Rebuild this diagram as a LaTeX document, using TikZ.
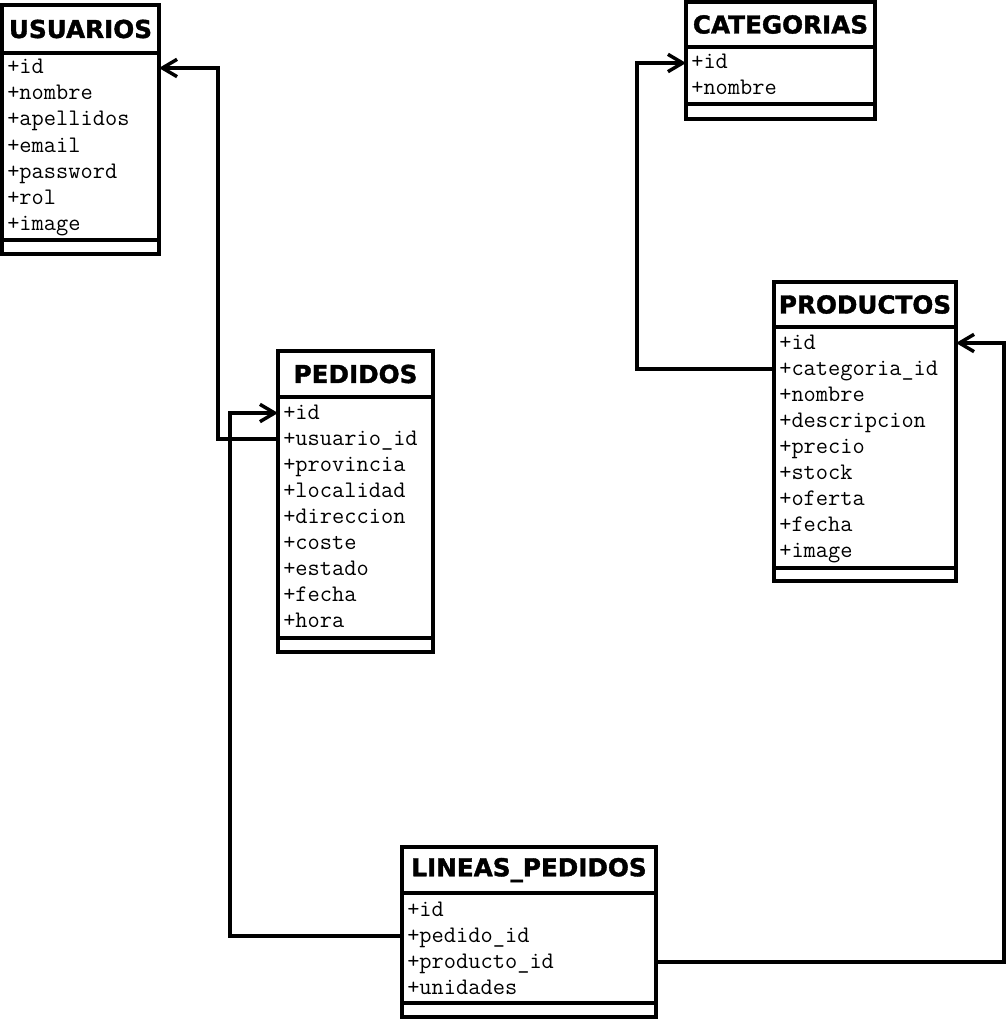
\documentclass[tikz,border=0pt]{standalone}
\usepackage{fontspec}
\newfontfamily\hdrfont{DejaVu Sans}[BoldFeatures={FakeBold=1.5}]
\usetikzlibrary{positioning,arrows.meta}

\tikzset{
  tblhead/.style={draw, line width=2.6pt, outer sep=0pt, inner sep=0pt, fill=white,
    font=\hdrfont\bfseries\fontsize{18.5}{20}\selectfont},
  tblbody/.style={draw, line width=2.6pt, outer sep=0pt, inner sep=0pt, fill=white},
  field/.style={anchor=west, inner sep=0pt, text height=11pt, text depth=2pt,
    font=\ttfamily\fontsize{17.8}{18}\selectfont},
  rel/.style={line width=2.6pt, -{Straight Barb[length=11pt,width=13pt]}},
}

\begin{document}
\begin{tikzpicture}[x=0.75pt, y=-0.75pt]
    \useasboundingbox (0,0) rectangle (1007,1020);

    % USUARIOS
    \node[tblhead, minimum width=117.75pt, minimum height=36pt, anchor=north west] (usu) at (2,5) {USUARIOS};
    \node[tblbody, minimum width=117.75pt, minimum height=140.25pt, below=0pt of usu] (usubody) {};
    \node[tblbody, minimum width=117.75pt, minimum height=10.5pt, below=0pt of usubody] (usufoot) {};
    \foreach \f [count=\i] in {id,nombre,apellidos,email,password,rol,image}
        \node[field] (usu-\i) at ([shift={(5,15+26*(\i-1))}]usubody.north west) {+\f};

    % CATEGORIAS
    \node[tblhead, minimum width=141.75pt, minimum height=33.75pt, anchor=north west] (cat) at (686,2) {CATEGORIAS};
    \node[tblbody, minimum width=141.75pt, minimum height=42.75pt, below=0pt of cat] (catbody) {};
    \node[tblbody, minimum width=141.75pt, minimum height=11.25pt, below=0pt of catbody] (catfoot) {};
    \foreach \f [count=\i] in {id,nombre}
        \node[field] (cat-\i) at ([shift={(5,16+26*(\i-1))}]catbody.north west) {+\f};

    % PRODUCTOS
    \node[tblhead, minimum width=136.5pt, minimum height=33.75pt, anchor=north west] (pro) at (774,282) {PRODUCTOS};
    \node[tblbody, minimum width=136.5pt, minimum height=180.75pt, below=0pt of pro] (probody) {};
    \node[tblbody, minimum width=136.5pt, minimum height=9.75pt, below=0pt of probody] (profoot) {};
    \foreach \f [count=\i] in {id,categoria\_id,nombre,descripcion,precio,stock,oferta,fecha,image}
        \node[field] (pro-\i) at ([shift={(5,16+26.1*(\i-1))}]probody.north west) {+\f};

    % PEDIDOS
    \node[tblhead, minimum width=116.25pt, minimum height=34.5pt, anchor=north west] (ped) at (278,351) {PEDIDOS};
    \node[tblbody, minimum width=116.25pt, minimum height=180.75pt, below=0pt of ped] (pedbody) {};
    \node[tblbody, minimum width=116.25pt, minimum height=10.5pt, below=0pt of pedbody] (pedfoot) {};
    \foreach \f [count=\i] in {id,usuario\_id,provincia,localidad,direccion,coste,estado,fecha,hora}
        \node[field] (ped-\i) at ([shift={(5,16+26.1*(\i-1))}]pedbody.north west) {+\f};

    % LINEAS_PEDIDOS
    \node[tblhead, minimum width=190.5pt, minimum height=34.5pt, anchor=north west] (lin) at (402,847) {LINEAS\_PEDIDOS};
    \node[tblbody, minimum width=190.5pt, minimum height=82.5pt, below=0pt of lin] (linbody) {};
    \node[tblbody, minimum width=190.5pt, minimum height=10.5pt, below=0pt of linbody] (linfoot) {};
    \foreach \f [count=\i] in {id,pedido\_id,producto\_id,unidades}
        \node[field] (lin-\i) at ([shift={(5,17+26*(\i-1))}]linbody.north west) {+\f};

    % Relations
    \draw[rel] (ped-2 -| pedbody.west) -- ++(-60,0) |- (usu-1 -| usubody.east);
    \draw[rel] (lin-2 -| linbody.west) -- ++(-172,0) |- (ped-1 -| pedbody.west);
    \draw[rel] (lin-3 -| linbody.east) -- ++(348,0) |- (pro-1 -| probody.east);
    \draw[rel] (pro-2 -| probody.west) -- ++(-137,0) |- (cat-1 -| catbody.west);
\end{tikzpicture}
\end{document}
